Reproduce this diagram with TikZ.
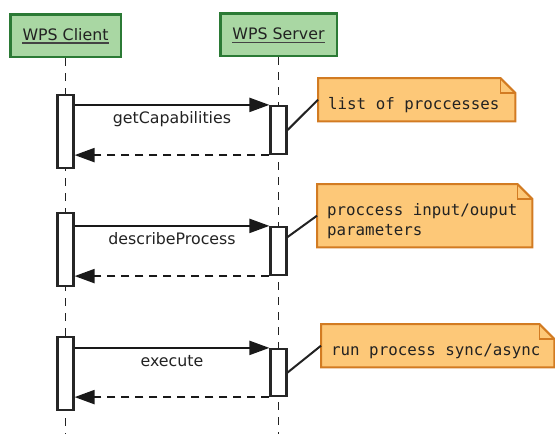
\documentclass[tikz,border=0pt]{standalone}
\usepackage{fontspec}
\setmainfont{DejaVu Sans}
\newfontfamily\notemono{DejaVu Sans Mono}
\usetikzlibrary{arrows.meta,backgrounds,calc}

\definecolor{headfill}{HTML}{A9D7A3}
\definecolor{headline}{HTML}{2B7A35}
\definecolor{notefill}{HTML}{FDC878}
\definecolor{noteline}{HTML}{D27B22}
\definecolor{ink}{HTML}{222222}

% dog-eared note outline around a named node
\newcommand\dognote[1]{%
  \path[notebox] (#1.north west) -- ([xshift=-15pt]#1.north east)
    -- ([yshift=-15pt]#1.north east) -- (#1.south east) -- (#1.south west) -- cycle;
  \draw[fold] ([xshift=-15pt]#1.north east) |- ([yshift=-15pt]#1.north east);
}

\begin{document}
\begin{tikzpicture}[x=1pt,y=-1pt,
  font=\fontsize{15.8}{20}\selectfont,
  head/.style={draw=headline, fill=headfill, line width=2.5pt, inner sep=0pt, minimum height=42.5pt},
  headtext/.style={inner sep=0pt, text=ink, anchor=base},
  uline/.style={line width=1.3pt, draw=ink!85},
  life/.style={line width=1.5pt, dash pattern=on 8pt off 7pt, draw=ink},
  act/.style={draw=black!85, fill=white, line width=2.2pt, minimum width=16pt, inner sep=0pt},
  call/.style={line width=2.2pt, draw=black!90, -{Triangle[length=20pt,width=14pt]}},
  reply/.style={call, dash pattern=on 8pt off 6pt},
  lbl/.style={text=ink, anchor=base, inner sep=0pt, midway, yshift=-19pt},
  note/.style={anchor=north west, font=\notemono\fontsize{15.8}{20}\selectfont,
    align=left, execute at begin node={\spaceskip=0.602em\xspaceskip=0.602em\relax},
    inner xsep=10pt, inner ysep=4pt, text height=27.5pt, text depth=7.5pt, text=ink},
  notebox/.style={draw=noteline, fill=notefill, line width=2pt},
  fold/.style={draw=noteline, line width=1.5pt},
  tie/.style={line width=2pt, draw=ink}
]
\useasboundingbox (0,0) rectangle (555,434);
\coordinate (bottom) at (0,434);

% participants
\node[head, minimum width=110.5pt] (client) at (65.5,35.5) {};
\node[head, minimum width=116.5pt] (server) at (278.5,34.5) {};
\node[headtext] (clientlbl) at ([yshift=-4.5pt]client.center) {WPS Client};
\node[headtext] (serverlbl) at ([yshift=-5pt]server.center) {WPS Server};
\draw[uline] ([yshift=-3pt]clientlbl.base west) -- ([yshift=-3pt]clientlbl.base east);
\draw[uline] ([yshift=-3pt]serverlbl.base west) -- ([yshift=-3pt]serverlbl.base east);

% lifelines
\draw[life] (client.south) -- (client.south |- bottom);
\draw[life] (server.south) -- (server.south |- bottom);

% activations
\node[act, minimum height=73pt] (a1c) at (65.5,131.5) {};
\node[act, minimum height=48pt] (a1s) at (278.5,130) {};
\node[act, minimum height=73pt] (a2c) at (65.5,249.5) {};
\node[act, minimum height=48pt] (a2s) at (278.5,251) {};
\node[act, minimum height=73pt] (a3c) at (65.5,373.5) {};
\node[act, minimum height=47pt] (a3s) at (278.5,372.5) {};

% messages
\draw[call] (a1c.east |- a1s.north) -- (a1s.north west) node[lbl] {getCapabilities};
\draw[reply] (a1s.south west) -- (a1c.east |- a1s.south);
\draw[call] (a2c.east |- a2s.north) -- (a2s.north west) node[lbl] {describeProcess};
\draw[reply] (a2s.south west) -- (a2c.east |- a2s.south);
\draw[call] (a3c.east |- a3s.north) -- (a3s.north west) node[lbl] {execute};
\draw[reply] (a3s.south west) -- (a3c.east |- a3s.south);

% notes
\node[note, text width=177pt] (n1) at (318,78) {list of proccesses};
\node[note, text width=195pt, text depth=27.5pt] (n2) at (317,184) {proccess input/ouput\\parameters};
\node[note, text width=213pt] (n3) at (321,324) {run process sync/async};
\begin{scope}[on background layer]
  \dognote{n1}
  \dognote{n2}
  \dognote{n3}
\end{scope}

\draw[tie] (a1s.east) -- (n1.west);
\draw[tie] ([yshift=14pt]a2s.east) -- (n2.west);
\draw[tie] (a3s.east) -- (n3.west);
\end{tikzpicture}
\end{document}
